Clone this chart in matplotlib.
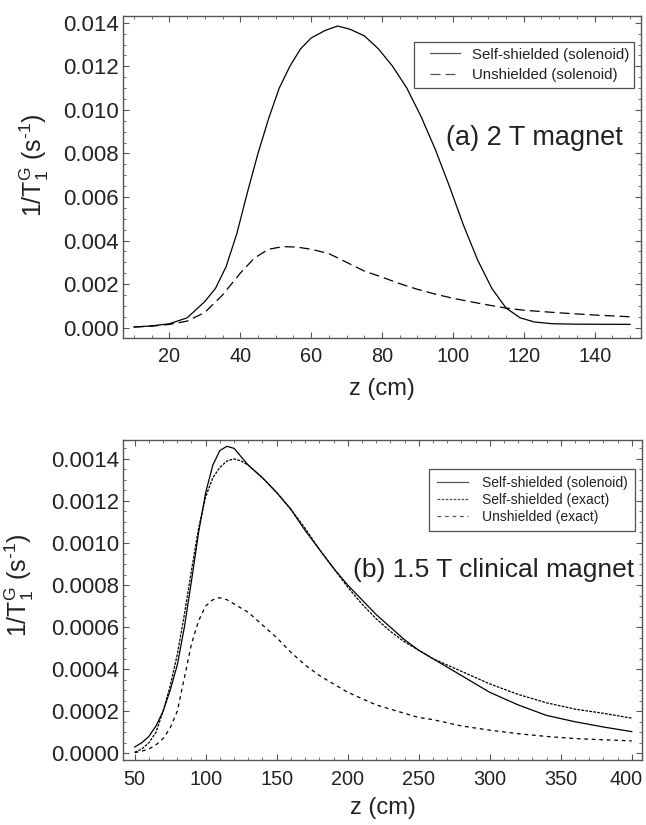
import matplotlib
matplotlib.use("Agg")
import matplotlib.pyplot as plt
from matplotlib.ticker import MultipleLocator, FormatStrFormatter
from matplotlib.lines import Line2D
from matplotlib.legend_handler import HandlerLine2D
from matplotlib.transforms import ScaledTranslation

plt.rcParams['font.family'] = ['Liberation Sans', 'DejaVu Sans']
plt.rcParams['mathtext.fontset'] = 'custom'
plt.rcParams['mathtext.rm'] = 'Liberation Sans'
plt.rcParams['mathtext.it'] = 'Liberation Sans:italic'

# ---------------- Panel (a) data: 2 T magnet ----------------
za_shield = [10, 15, 20, 25, 30, 33, 36, 39, 42, 45, 48, 51, 54, 57, 60, 64, 67.5,
             71, 75, 79, 83, 87, 91, 95, 99, 103, 107, 111, 115, 119, 123, 128, 135, 150]
va_shield = [0.00003, 0.00008, 0.00018, 0.00045, 0.0012, 0.0018, 0.0028, 0.0043, 0.0062,
             0.0080, 0.0096, 0.0110, 0.0120, 0.0128, 0.0133, 0.01365, 0.01385,
             0.0137, 0.0134, 0.0128, 0.0120, 0.0110, 0.0097, 0.0082, 0.0065, 0.0047,
             0.0031, 0.0018, 0.0009, 0.00045, 0.00026, 0.00018, 0.00016, 0.00015]

za_unshield = [10, 15, 20, 25, 30, 35, 40, 44, 48, 52, 56, 60, 65, 70, 75, 80, 85, 90,
               95, 100, 105, 110, 115, 120, 130, 140, 150]
va_unshield = [0.00003, 0.00007, 0.00015, 0.0003, 0.0007, 0.0015, 0.0025, 0.0032, 0.0036,
               0.00372, 0.0037, 0.0036, 0.0034, 0.0030, 0.0026, 0.00232, 0.00202, 0.00176,
               0.00154, 0.00135, 0.00119, 0.00104, 0.0009, 0.0008, 0.00068, 0.00058, 0.0005]

# ---------------- Panel (b) data: 1.5 T clinical magnet ----------------
zb = [50, 55, 60, 65, 70, 75, 80, 85, 90, 95, 100, 105, 110, 115, 120, 125, 130,
      140, 150, 160, 170, 180, 190, 200, 210, 220, 230, 240, 250, 260, 270, 280,
      290, 300, 320, 340, 360, 380, 400]
vb_shield_sol = [0.00003, 0.00005, 0.00008, 0.00013, 0.0002, 0.0003, 0.00042, 0.0006,
                 0.00082, 0.00105, 0.00124, 0.00137, 0.00144, 0.00146, 0.00145, 0.00141,
                 0.00137, 0.00131, 0.00124, 0.00116, 0.00106, 0.00097, 0.00088, 0.0008,
                 0.00073, 0.00066, 0.0006, 0.00054, 0.00049, 0.00045, 0.00041, 0.00037,
                 0.00033, 0.00029, 0.00023, 0.00018, 0.00015, 0.000125, 0.000103]
vb_shield_exact = [0.000005, 0.00002, 0.00005, 0.0001, 0.0002, 0.00032, 0.00047, 0.00066,
                   0.00087, 0.00107, 0.00122, 0.00131, 0.00136, 0.00139, 0.0014, 0.00139,
                   0.00137, 0.00131, 0.00124, 0.00116, 0.00107, 0.00097, 0.00088, 0.00079,
                   0.00071, 0.00064, 0.00058, 0.00053, 0.00049, 0.00045, 0.00042, 0.00039,
                   0.00036, 0.00033, 0.00028, 0.00024, 0.00021, 0.00019, 0.000167]
vb_unshield_exact = [0.000003, 0.00001, 0.00002, 0.00004, 0.00007, 0.00012, 0.0002, 0.00036,
                     0.00052, 0.00063, 0.0007, 0.00073, 0.00074, 0.00073, 0.00071, 0.00069,
                     0.00067, 0.00061, 0.00055, 0.00048, 0.00042, 0.00037, 0.00033, 0.00029,
                     0.00026, 0.00023, 0.00021, 0.00019, 0.00017, 0.00016, 0.000145, 0.00013,
                     0.00012, 0.00011, 0.000093, 0.00008, 0.00007, 0.000064, 0.000059]

xticks_a = [20, 40, 60, 80, 100, 120, 140]
xticks_b = [50, 100, 150, 200, 250, 300, 350, 400]
labels_a = ['Self-shielded (solenoid)', 'Unshielded (solenoid)']
labels_b = ['Self-shielded (solenoid)', 'Self-shielded (exact)', 'Unshielded (exact)']
title_a = '(a) 2 T magnet'
title_b = '(b) 1.5 T clinical magnet'
xlabel = 'z (cm)'
ylabel = r'1/T$_{\rm 1}^{\rm G}$ (s$^{\rm ' + '\u2010' + r'1}$)'

TXT = '#222222'
SPINE = '#555555'

fig = plt.figure(figsize=(6.46, 8.25), dpi=100)
ax1 = fig.add_axes([0.1909, 0.5907, 0.8009, 0.3899])
ax2 = fig.add_axes([0.1909, 0.0788, 0.8024, 0.3879])

def style(ax):
    for s in ax.spines.values():
        s.set_color(SPINE)
        s.set_linewidth(1.0)
    ax.tick_params(which='both', direction='in', top=True, right=True,
                   colors=SPINE, labelcolor=TXT)
    ax.tick_params(axis='x', labelsize=14.3, pad=7)
    ax.tick_params(axis='y', labelsize=16, pad=3)
    ax.tick_params(which='major', length=4, width=0.8)
    ax.tick_params(which='minor', length=2, width=0.6)
    ax.set_xlabel(xlabel, fontsize=17, color=TXT)
    ax.set_ylabel(ylabel, fontsize=18, color=TXT)

# Panel (a)
ax1.plot(za_shield, va_shield, color='black', lw=0.9, label=labels_a[0])
ax1.plot(za_unshield, va_unshield, color='black', lw=0.9, dashes=(8, 4), label=labels_a[1])
ax1.set_xlim(7, 153)
ax1.set_ylim(-0.00046, 0.01431)
ax1.set_xticks(xticks_a)
ax1.xaxis.set_minor_locator(MultipleLocator(5))
ax1.yaxis.set_major_locator(MultipleLocator(0.002))
ax1.yaxis.set_minor_locator(MultipleLocator(0.0005))
ax1.yaxis.set_major_formatter(FormatStrFormatter('%.3f'))
style(ax1)
ax1.xaxis.set_label_coords(0.5, -0.125)
ax1.yaxis.set_label_coords(-0.14, 0.535)
leg1 = ax1.legend(loc='upper right', bbox_to_anchor=(0.9876, 0.918), borderaxespad=0,
                  fontsize=10.8, frameon=True, fancybox=False, edgecolor='#222222',
                  handlelength=2.7, handletextpad=0.8, labelspacing=0.45, borderpad=0.35,
                  labelcolor=TXT, handler_map={Line2D: HandlerLine2D(xpad=0.7)})
leg1.get_frame().set_linewidth(0.9)
for h in leg1.get_lines():
    h.set_color('#555555')
ax1.text(0.965, 0.62, title_a, transform=ax1.transAxes, ha='right', va='center',
         fontsize=19.5, color=TXT)

# Panel (b)
ax2.plot(zb, vb_shield_sol, color='black', lw=0.9, label=labels_b[0])
ax2.plot(zb, vb_shield_exact, color='black', lw=0.9, dashes=(2.2, 1.0), label=labels_b[1])
ax2.plot(zb, vb_unshield_exact, color='black', lw=0.9, dashes=(3, 3), label=labels_b[2])
ax2.set_xlim(42, 407)
ax2.set_ylim(-0.000032, 0.00149)
ax2.set_xticks(xticks_b)
ax2.xaxis.set_minor_locator(MultipleLocator(10))
ax2.yaxis.set_major_locator(MultipleLocator(0.0002))
ax2.yaxis.set_minor_locator(MultipleLocator(0.00005))
ax2.yaxis.set_major_formatter(FormatStrFormatter('%.4f'))
style(ax2)
ax2.xaxis.set_label_coords(0.5, -0.115)
ax2.yaxis.set_label_coords(-0.168, 0.545)
leg2 = ax2.legend(loc='upper right', bbox_to_anchor=(0.987, 0.908), borderaxespad=0,
                  fontsize=10, frameon=True, fancybox=False, edgecolor='#222222',
                  handlelength=2.3, handletextpad=1.05, labelspacing=0.2, borderpad=0.5,
                  labelcolor=TXT, handler_map={Line2D: HandlerLine2D(xpad=0.1)})
leg2.get_frame().set_linewidth(0.9)
for h in leg2.get_lines():
    h.set_color('#555555')
ax2.text(0.985, 0.595, title_b, transform=ax2.transAxes, ha='right', va='center',
         fontsize=19, color=TXT)

# keep the last tick label of panel (b) inside the figure, as in the reference
last = ax2.get_xticklabels()[-1]
last.set_transform(last.get_transform() + ScaledTranslation(-4 / 72, 0, fig.dpi_scale_trans))

fig.savefig('out.png', dpi=100)
